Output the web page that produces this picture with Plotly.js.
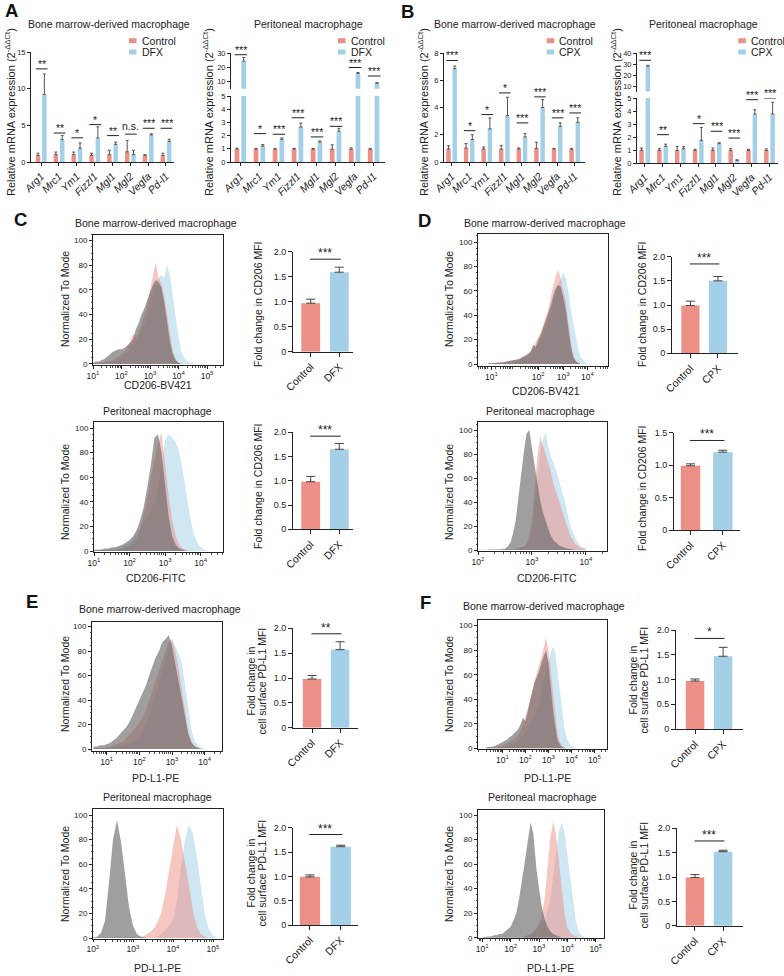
<!DOCTYPE html>
<html><head><meta charset="utf-8">
<script src="https://cdn.plot.ly/plotly-3.0.1.min.js"></script>
<style>html,body{margin:0;padding:0;background:#fff}#chart{width:784px;height:976px}</style>
</head><body><div id="chart"></div>
<script>
// ---------------- DATA ----------------
const genes = ['Arg1','Mrc1','Ym1','Fizzl1','Mgl1','Mgl2','Vegfa','Pd-l1'];
// Panel A, bone marrow-derived macrophage (Control vs DFX)
const aBmCtrl    = [0.9, 1.0, 1.0, 0.9, 1.0, 1.4, 0.9, 0.9];
const aBmCtrlErr = [0.3, 0.35, 0.35, 0.3, 0.6, 1.55, 0.1, 0.3];
const aBmTrt     = [9.2, 3.05, 1.9, 3.3, 2.4, 1.0, 3.7, 2.8];
const aBmTrtErr  = [2.8, 0.55, 0.7, 1.5, 0.3, 0.6, 0.15, 0.3];
const aBmSig     = ['**','**','*','*','**','n.s.','***','***'];
const aBmSigY    = [12.7, 3.95, 3.3, 5.1, 3.6, 3.8, 4.6, 4.6];
// Panel A, peritoneal macrophage (Control vs DFX)
const aPeCtrl    = [0.97,0.97,0.97,0.97,0.97,0.97,0.97,0.97];
const aPeCtrlErr = [0.08,0.06,0.06,0.06,0.05,0.33,0.1,0.06];
const aPeTrt     = [24.5, 1.2, 1.72, 2.65, 1.52, 2.35, 15.8, 9.0];
const aPeTrtErr  = [2.5, 0.12, 0.1, 0.3, 0.07, 0.2, 0.7, 0.3];
const aPeSig     = ['***','*','***','***','***','***','***','***'];
const aPeSigY    = [29, 2.15, 2.1, 3.35, 1.9, 2.7, 20, 14];
// Panel B, bone marrow-derived macrophage (Control vs CPX)
const bBmCtrl    = [0.95,1.03,0.95,0.95,0.95,1.0,0.95,0.95];
const bBmCtrlErr = [0.25,0.32,0.15,0.27,0.08,0.45,0.05,0.05];
const bBmTrt     = [6.85,1.65,2.43,3.4,1.84,4.0,2.62,2.92];
const bBmTrtErr  = [0.2,0.35,0.8,1.35,0.24,0.58,0.25,0.32];
const bBmSig     = ['***','*','*','*','***','***','***','***'];
const bBmSigY    = [7.45,2.3,3.48,5.07,2.87,4.78,3.24,3.6];
// Panel B, peritoneal macrophage (Control vs CPX)
const bPeCtrl    = [0.97,0.97,0.97,0.97,0.97,0.97,0.97,0.97];
const bPeCtrlErr = [0.18,0.13,0.3,0.08,0.18,0.13,0.08,0.11];
const bPeTrt     = [28.2,1.28,1.1,1.74,1.49,0.2,3.77,3.77];
const bPeTrtErr  = [0.8,0.17,0.15,1.0,0.07,0.05,0.33,0.9];
const bPeSig     = ['***','**','','*','***','***','***','***'];
const bPeSigY    = [33.6,2.18,null,3.03,2.44,1.92,4.87,5.0];

// Fold-change bar charts [Control, treatment]
const cBmFold = [0.97,1.59], cBmFoldErr = [0.08,0.1];
const cPeFold = [0.98,1.65], cPeFoldErr = [0.11,0.12];
const dBmFold = [0.99,1.5],  dBmFoldErr = [0.09,0.09];
const dPeFold = [0.99,1.2],  dPeFoldErr = [0.03,0.03];
const eBmFold = [0.98,1.57], eBmFoldErr = [0.07,0.16];
const ePeFold = [0.99,1.61], ePeFoldErr = [0.04,0.03];
const fBmFold = [0.97,1.47], fBmFoldErr = [0.04,0.18];
const fPeFold = [0.99,1.52], fPePFoldErr = [0.06,0.03];

// Flow histograms: log10 intensity grid and % of mode (isotype / control / treated)
const cBmLog  = [1.0,1.1,1.2,1.3,1.4,1.5,1.6,1.7,1.8,1.9,2.0,2.1,2.2,2.3,2.4,2.5,2.6,2.7,2.8,2.9,3.0,3.1,3.2,3.3,3.4,3.5,3.6,3.7,3.8,3.9,4.0,4.1,4.2,4.3,4.4,4.5];
const cBmIso  = [1,2,2,3,4,6,8,10,11,12, 12,13,15,17,20,28,33,40,45,52, 58,64,68,66,62,50,35,18,8,3, 1,0,0,0,0,0];
const cBmCtrl = [0.5,1,1,1,2,2,3,3,5,6, 8,10,13,18,24,22,25,32,40,48, 60,72,82,70,65,55,40,22,10,4, 1,0,0,0,0,0];
const cBmTrt  = [0.5,0.5,1,1,1,1,2,2,3,4, 5,7,9,12,15,18,22,28,32,38, 45,55,62,70,72,70,80,72,55,38, 22,10,5,2,1,0.5];

const cPeLog  = [1.0,1.1,1.2,1.3,1.4,1.5,1.6,1.7,1.8,1.9,2.0,2.1,2.2,2.3,2.4,2.5,2.6,2.7,2.8,2.9,3.0,3.1,3.2,3.3,3.4,3.5,3.6,3.7,3.8,3.9,4.0,4.1,4.2];
const cPeIso  = [1,1,1,2,2,3,3,4,5,7, 9,12,17,25,36,52,70,92,95,80, 55,28,12,5,2,1,0,0,0,0, 0,0,0];
const cPeCtrl = [0.5,0.5,0.5,0.5,1,1,1,1,2,3, 4,6,10,18,30,42,60,75,88,96, 70,45,25,12,5,2,1,0,0,0, 0,0,0];
const cPeTrt  = [1,1,1,1.5,1.5,2,2,3,4,5, 7,10,14,18,22,27,33,40,52,72, 90,95,92,88,80,65,45,28,15,7, 3,1,0];

const dBmLog  = [0,0.3,0.6,0.9,1.2,1.4,1.6,1.7,1.8,1.9,2.0,2.1,2.2,2.3,2.4,2.5,2.6,2.7,2.8,2.9,3.0,3.1,3.2,3.3,3.4,3.5,3.6,3.7,3.8,3.9,4.0];
const dBmIso  = [0.5,1,1.5,3,4,6, 8,10,16,14,20,24,30,36,42,48,56,62,65,63,55,45,30,15,6,2,1,0,0,0,0];
const dBmCtrl = [0.5,1,1,2,4,6, 9,11,13,18,22,26,32,38,45,55,65,72,77,70,60,52,35,18,7,3,1,0,0,0,0];
const dBmTrt  = [0.5,1,1,2,3,5, 7,9,11,14,17,20,25,30,35,42,50,58,65,70,75,70,60,45,35,22,12,6,3,1,0.5];

const dPeLog  = [2.0,2.2,2.4,2.5,2.55,2.6,2.65,2.7,2.75,2.8,2.85,2.9,2.95,3.0,3.05,3.1,3.15,3.2,3.25,3.3,3.35,3.4,3.45,3.5,3.6,3.7,3.8,3.9,4.0];
const dPeIso  = [0,0,0.5,1,3,6,14,25,45,65,82,97,100,85,70,55,42,32,24,18,12,8,6,4,2,1,0,0,0];
const dPeCtrl = [0,0,0,0,0,0.5,0.5,1,1.5,2,3,6,12,25,50,78,95,88,80,72,65,55,48,40,28,13,5,2,0.5];
const dPeTrt  = [0,0,0,0,0,0.5,0.5,1,1.5,2,3,4,8,15,35,60,82,92,98,86,78,72,66,58,42,22,10,3,1];

const eBmLog  = [0.6,0.7,0.8,0.9,1.0,1.1,1.2,1.3,1.4,1.5,1.6,1.7,1.8,1.9,2.0,2.1,2.2,2.3,2.4,2.5,2.6,2.7,2.8,2.9,3.0,3.1,3.2,3.3,3.4,3.5,3.6,3.7,3.8,3.9,4.0];
const eBmIso  = [2,2,3,3,4,5,7,9,12,15, 18,22,28,34,40,46,52,60,68,75, 80,87,90,93,84,70,55,40,25,12, 5,2,1,0,0];
const eBmCtrl = [1,1,1,1,2,2,3,4,5,6, 9,12,15,18,22,26,32,40,48,55, 64,72,80,88,90,80,66,48,30,14, 6,2,1,0,0];
const eBmTrt  = [0.5,0.5,0.5,1,1,1,2,2,3,3, 4,5,6,8,10,14,20,28,36,45, 54,64,74,82,90,84,78,70,52,32, 15,6,3,1,0.5];

const ePeLog  = [2.0,2.1,2.2,2.3,2.4,2.5,2.6,2.7,2.8,2.9,3.0,3.1,3.2,3.3,3.4,3.5,3.6,3.7,3.8,3.9,4.0,4.1,4.2,4.3,4.4,4.5,4.6,4.7,4.8,4.9,5.0,5.1];
const ePeIso  = [0.5,1,4,14,45,80,96,78,52,25, 10,3,1,0,0,0,0,0,0,0, 0,0,0,0,0,0,0,0,0,0, 0,0];
const ePeCtrl = [0,0,0,0,0,0,0,0,0,0, 0,0.5,1,2,4,7,12,20,35,55, 75,92,80,62,42,22,9,3,1,0, 0,0];
const ePeTrt  = [0,0,0,0,0,0,0,0,0,0, 0,0,0,0,0,0.5,1,3,6,10, 15,30,58,80,92,85,65,40,18,7, 2,0.5];

const fBmLog  = [0.3,0.5,0.7,0.9,1.0,1.1,1.2,1.3,1.4,1.5,1.6,1.7,1.8,1.9,2.0,2.1,2.2,2.3,2.4,2.5,2.6,2.7,2.8,2.9,3.0,3.1,3.2,3.3,3.4,3.5,3.6,3.7,3.8,3.9,4.0,4.1,4.2];
const fBmIso  = [1,1,2,4, 5,6,7,9,10,12,14,16,20,25, 22,30,38,46,54,58,63,70,76,80, 70,50,32,18,7,3,1,0,0,0, 0,0,0];
const fBmCtrl = [0.5,0.5,1,2, 2,3,4,5,6,7,9,11,15,20, 25,32,40,47,55,62,68,74,82,90, 80,64,45,28,12,5,2,1,0,0, 0,0,0];
const fBmTrt  = [0.5,0.5,0.5,1, 1,1.5,2,2.5,3,4,5,7,9,11, 13,15,19,23,28,33,38,48,56,64, 72,78,83,78,62,46,30,16,8,4, 2,1,0];

const fPeLog  = [1.0,1.1,1.2,1.3,1.4,1.5,1.6,1.7,1.8,1.9,2.0,2.1,2.2,2.3,2.4,2.5,2.6,2.7,2.8,2.9,3.0,3.1,3.2,3.3,3.4,3.5,3.6,3.7,3.8,3.9,4.0,4.1,4.2,4.3,4.4,4.5,4.6];
const fPeIso  = [0.5,1,1,1,2,2,3,3,5,7, 9,14,20,32,46,62,78,94,85,58, 40,25,15,9,5,3,2,1,0,0, 0,0,0,0,0,0,0];
const fPeCtrl = [0,0,0,0,0,0,0,0,0,0, 0,0,0,0,0,1,2,3,5,7, 11,18,32,55,82,95,84,62,40,20, 8,4,2,1,0,0,0];
const fPeTrt  = [0,0,0,0,0,0,0,0,0,0, 0,0,0,0,0,1,2,3,5,7, 10,12,15,22,32,48,68,86,94,86, 68,48,28,13,5,2,1];

// ---------------- STYLE / HELPERS ----------------
const FONT = '"Liberation Sans", Arial, sans-serif';
const INK = '#222';
const RED = '#EC8F86', BLUE = '#A3CFE7';
const ISO_FILL = 'rgba(100,100,100,0.62)', CTRL_FILL = 'rgba(236,135,126,0.48)', TRT_FILL = 'rgba(160,205,232,0.5)';
const W = 784, H = 976;

const layout = {width:W, height:H, margin:{l:0,r:0,t:0,b:0}, paper_bgcolor:'#fff', plot_bgcolor:'rgba(0,0,0,0)',
  showlegend:false, barmode:'overlay', font:{family:FONT, size:10, color:INK}, annotations:[], shapes:[]};
const data = [];
let axN = 0;
function newAxes(x0, x1, yt, yb, xo, yo) {
  axN++; const s = axN === 1 ? '' : String(axN);
  layout['xaxis'+s] = Object.assign({domain:[x0/W, x1/W], anchor:'y'+s}, xo);
  layout['yaxis'+s] = Object.assign({domain:[1-yb/H, 1-yt/H], anchor:'x'+s}, yo);
  return {xa:'x'+s, ya:'y'+s};
}
const base = {showline:true, linecolor:INK, linewidth:1, showgrid:false, zeroline:false, ticks:'outside',
  tickcolor:INK, tickwidth:1, fixedrange:true};
function ann(text, x, y, o) {
  layout.annotations.push(Object.assign({text, x:x/W, y:1-y/H, xref:'paper', yref:'paper', showarrow:false,
    xanchor:'center', yanchor:'middle', font:{size:10.5, color:INK}}, o || {}));
}
function rect(x, y, w, h, color) {
  layout.shapes.push({type:'rect', xref:'paper', yref:'paper', x0:x/W, x1:(x+w)/W, y0:1-(y+h/2)/H, y1:1-(y-h/2)/H,
    fillcolor:color, line:{width:0}});
}
const catIdx = genes.map((g,i) => i);

function geneBars(ax, ctrl, ctrlErr, trt, trtErr) {
  const zeros = ctrl.map(() => 0);
  data.push({type:'bar', x:catIdx, y:ctrl, xaxis:ax.xa, yaxis:ax.ya, offset:-0.30, width:0.25,
    marker:{color:RED, line:{width:0}}, hoverinfo:'skip',
    error_y:{type:'data', symmetric:false, array:ctrlErr, arrayminus:zeros, color:'#555', thickness:1, width:1.5}});
  data.push({type:'bar', x:catIdx, y:trt, xaxis:ax.xa, yaxis:ax.ya, offset:0.055, width:0.25,
    marker:{color:BLUE, line:{width:0}}, hoverinfo:'skip',
    error_y:{type:'data', symmetric:false, array:trtErr, arrayminus:zeros, color:'#555', thickness:1, width:1.5}});
}

function genePanel(o) {
  const xo = Object.assign({}, base, {range:o.xr, tickvals:catIdx, ticktext:genes.map(g => '<i>'+g+'</i>'),
    tickangle:-45, ticklen:3, tickfont:{size:10.5, color:INK}});
  const yo = Object.assign({}, base, {range:o.range, tickvals:o.ticks, ticklen:3, tickfont:{size:7.5, color:INK}});
  const low = newAxes(o.x0, o.x1, o.yt, o.yb, xo, yo);
  geneBars(low, o.ctrl, o.ctrlErr, o.trt, o.trtErr);
  let up = null;
  if (o.up) {
    up = newAxes(o.x0, o.x1, o.up.yt, o.up.yb, {range:o.xr, visible:false, fixedrange:true},
      Object.assign({}, base, {range:o.up.range, tickvals:o.up.ticks, ticklen:3, tickfont:{size:7.5, color:INK}}));
    geneBars(up, o.ctrl, o.ctrlErr, o.trt, o.trtErr);
  }
  o.sig.forEach((s, i) => {
    if (!s) return;
    const y = o.sigY[i];
    const ax = (up && y > o.range[1]) ? up : low;
    layout.shapes.push({type:'line', xref:ax.xa, yref:ax.ya, x0:i-0.3, x1:i+0.36, y0:y, y1:y, line:{color:INK, width:1}});
    layout.annotations.push({text:s, x:i+0.03, y:y, xref:ax.xa, yref:ax.ya, showarrow:false, xanchor:'center',
      yanchor:'bottom', yshift:(s === 'n.s.' ? 0 : -3), font:{size:10.5, color:INK}});
  });
  ann(o.title, o.tx, 24, {font:{size:10.5, color:INK}});
  ann('Relative mRNA expression (2<sup>-ΔΔCt</sup>)', o.ytx, 112, {textangle:-90, font:{size:11, color:INK}});
  rect(o.lx, 40.7, 7.5, 5, RED); rect(o.lx, 52, 7.5, 5, BLUE);
  ann('Control', o.lx+10.5, 40.7, {xanchor:'left', font:{size:10.5, color:INK}});
  ann(o.trtName, o.lx+10.5, 52, {xanchor:'left', font:{size:10.5, color:INK}});
}

function flowBar(o) {
  const xo = Object.assign({}, base, {range:o.xr, tickvals:[0,1], ticktext:['Control', o.trtName], tickangle:-45,
    ticklen:4, tickfont:{size:10.5, color:INK}});
  const yo = Object.assign({}, base, {range:o.range, tickvals:o.ticks, ticktext:o.tickt, ticklen:4,
    tickfont:{size:9, color:INK}});
  const ax = newAxes(o.x0, o.x1, o.yt, o.yb, xo, yo);
  data.push({type:'bar', x:[0,1], y:o.vals, width:o.bw || 0.66, xaxis:ax.xa, yaxis:ax.ya, hoverinfo:'skip',
    marker:{color:[RED, BLUE], line:{width:0}},
    error_y:{type:'data', symmetric:false, array:o.errs, arrayminus:[0,0], color:'#444', thickness:1, width:4.5}});
  layout.shapes.push({type:'line', xref:ax.xa, yref:ax.ya, x0:-0.02, x1:1.05, y0:o.sigY, y1:o.sigY, line:{color:INK, width:1}});
  layout.annotations.push({text:o.sig, x:0.5, y:o.sigY, xref:ax.xa, yref:ax.ya, showarrow:false, xanchor:'center',
    yanchor:'bottom', yshift:-3, font:{size:12, color:INK}});
  if (o.ytitle.length === 1) {
    ann(o.ytitle[0], o.ytx, o.yty, {textangle:-90, font:{size:10.5, color:INK}});
  } else {
    ann(o.ytitle[0], o.ytx-5.5, o.yty, {textangle:-90, font:{size:10.5, color:INK}});
    ann(o.ytitle[1], o.ytx+5.5, o.yty, {textangle:-90, font:{size:10.5, color:INK}});
  }
}

const minorVals = [];
for (let e = -1; e < 6; e++) for (let m = 2; m < 10; m++) minorVals.push(m * Math.pow(10, e));

function histo(o) {
  const xo = Object.assign({}, base, {type:'log', range:o.lr, tickvals:o.tickL.map(l => Math.pow(10, l)),
    ticktext:o.tickE.map(e => '10<sup>'+e+'</sup>'), ticklen:2.5, mirror:true, tickfont:{size:8.5, color:INK},
    minor:{tickvals:minorVals, ticks:'outside', ticklen:2, tickcolor:INK, tickwidth:0.8}});
  const yo = Object.assign({}, base, {range:o.yr, tickvals:[0,20,40,60,80,100], ticklen:3, mirror:true,
    tickfont:{size:8, color:INK}, minor:{dtick:5, ticks:'outside', ticklen:1.5, tickcolor:INK, tickwidth:0.8}});
  const ax = newAxes(o.x0, o.x1, o.yt, o.yb, xo, yo);
  const xs = o.grid.map(l => Math.pow(10, l));
  [[o.trt, TRT_FILL], [o.ctrl, CTRL_FILL], [o.iso, ISO_FILL]].forEach(([ys, fc]) => {
    data.push({type:'scatter', mode:'lines', x:xs, y:ys, xaxis:ax.xa, yaxis:ax.ya, fill:'tozeroy', fillcolor:fc,
      line:{width:0, color:fc}, hoverinfo:'skip'});
  });
  ann(o.title, o.tx, o.ty, {font:{size:10.5, color:INK}});
  ann(o.xtitle, o.xtx, o.xty, {font:{size:10.5, color:INK}});
  ann('Normalized To Mode', o.ytx, o.yty, {textangle:-90, font:{size:10.5, color:INK}});
}

// ---------------- PANELS A/B ----------------
genePanel({x0:31, x1:174, yt:52, yb:162, xr:[-0.57,7.45], range:[0,15], ticks:[0,5,10,15],
  ctrl:aBmCtrl, ctrlErr:aBmCtrlErr, trt:aBmTrt, trtErr:aBmTrtErr, sig:aBmSig, sigY:aBmSigY,
  title:'Bone marrow-derived macrophage', tx:109, ytx:10, lx:129, trtName:'DFX'});
genePanel({x0:231, x1:385, yt:96, yb:162, xr:[-0.49,7.6], range:[0,5], ticks:[0,1,2,3,4,5],
  up:{yt:53.3, yb:88.8, range:[5,30], ticks:[10,20,30]},
  ctrl:aPeCtrl, ctrlErr:aPeCtrlErr, trt:aPeTrt, trtErr:aPeTrtErr, sig:aPeSig, sigY:aPeSigY,
  title:'Peritoneal macrophage', tx:308, ytx:208, lx:338, trtName:'DFX'});
genePanel({x0:444, x1:585, yt:53, yb:162, xr:[-0.43,7.59], range:[0,8], ticks:[0,2,4,6,8],
  ctrl:bBmCtrl, ctrlErr:bBmCtrlErr, trt:bBmTrt, trtErr:bBmTrtErr, sig:bBmSig, sigY:bBmSigY,
  title:'Bone marrow-derived macrophage', tx:515, ytx:423, lx:546.7, trtName:'CPX'});
genePanel({x0:637, x1:778, yt:98, yb:163, xr:[-0.43,7.48], range:[0,5], ticks:[0,1,2,3,4,5],
  up:{yt:53.3, yb:91.5, range:[5,40], ticks:[10,20,30,40]},
  ctrl:bPeCtrl, ctrlErr:bPeCtrlErr, trt:bPeTrt, trtErr:bPeTrtErr, sig:bPeSig, sigY:bPeSigY,
  title:'Peritoneal macrophage', tx:703, ytx:616, lx:738.3, trtName:'CPX'});

// ---------------- HISTOGRAMS ----------------
histo({x0:93, x1:223, yt:234.5, yb:365.2, lr:[1,5.56], yr:[-1,105], grid:cBmLog, iso:cBmIso, ctrl:cBmCtrl, trt:cBmTrt,
  tickL:[1,2,3,4,5], tickE:[1,2,3,4,5], title:'Bone marrow-derived macrophage', tx:156, ty:223,
  xtitle:'CD206-BV421', xtx:158, xty:385, ytx:65, yty:299});
histo({x0:94, x1:223, yt:422, yb:552, lr:[1,4.63], yr:[-0.8,104.9], grid:cPeLog, iso:cPeIso, ctrl:cPeCtrl, trt:cPeTrt,
  tickL:[1,2,3,4], tickE:[1,2,3,4], title:'Peritoneal macrophage', tx:157, ty:411,
  xtitle:'CD206-FITC', xtx:156, xty:578, ytx:65, yty:492});
histo({x0:478, x1:608, yt:234, yb:366, lr:[-0.41,4.79], yr:[-1.6,106.6], grid:dBmLog, iso:dBmIso, ctrl:dBmCtrl, trt:dBmTrt,
  tickL:[0.13,2,3,3.97], tickE:[1,2,3,4], title:'Bone marrow-derived macrophage', tx:545, ty:223,
  xtitle:'CD206-BV421', xtx:546, xty:391, ytx:449, yty:299});
histo({x0:478, x1:607, yt:422, yb:551, lr:[2,4.39], yr:[-0.8,106.7], grid:dPeLog, iso:dPeIso, ctrl:dPeCtrl, trt:dPeTrt,
  tickL:[2,3,4], tickE:[2,3,4], title:'Peritoneal macrophage', tx:540, ty:411,
  xtitle:'CD206-FITC', xtx:547, xty:578, ytx:449, yty:492});
histo({x0:92, x1:222, yt:622, yb:751, lr:[0.55,4.53], yr:[-1.6,103.8], grid:eBmLog, iso:eBmIso, ctrl:eBmCtrl, trt:eBmTrt,
  tickL:[1,2,3,4], tickE:[1,2,3,4], title:'Bone marrow-derived macrophage', tx:160, ty:609,
  xtitle:'PD-L1-PE', xtx:155, xty:778, ytx:65, yty:684});
histo({x0:93, x1:223, yt:809, yb:938.5, lr:[2,5.25], yr:[-0.4,104.9], grid:ePeLog, iso:ePeIso, ctrl:ePeCtrl, trt:ePeTrt,
  tickL:[2,3,4,5], tickE:[2,3,4,5], title:'Peritoneal macrophage', tx:157, ty:797,
  xtitle:'PD-L1-PE', xtx:157, xty:968, ytx:65, yty:874});
histo({x0:478, x1:607, yt:620, yb:749, lr:[-0.06,5.55], yr:[-0.6,104.6], grid:fBmLog, iso:fBmIso, ctrl:fBmCtrl, trt:fBmTrt,
  tickL:[1,2,3,4,5], tickE:[1,2,3,4,5], title:'Bone marrow-derived macrophage', tx:544, ty:606,
  xtitle:'PD-L1-PE', xtx:547, xty:778, ytx:449, yty:684});
histo({x0:478, x1:604, yt:810, yb:938, lr:[0.85,5.29], yr:[-0.2,104.1], grid:fPeLog, iso:fPeIso, ctrl:fPeCtrl, trt:fPeTrt,
  tickL:[1,2,3,4,5], tickE:[1,2,3,4,5], title:'Peritoneal macrophage', tx:542, ty:797,
  xtitle:'PD-L1-PE', xtx:550, xty:968, ytx:449, yty:874});

// ---------------- FOLD-CHANGE BARS ----------------
const t2 = {range:[0,2], ticks:[0,0.5,1,1.5,2], tickt:['0','0.5','1.0','1.5','2.0']};
const cd206T = ['Fold change in CD206 MFI'];
const pdl1T = ['Fold change in', 'cell surface PD-L1 MFI'];
flowBar(Object.assign({x0:293, x1:353, yt:251.7, yb:351.7, xr:[-0.62,1.48], vals:cBmFold, errs:cBmFoldErr, trtName:'DFX',
  sig:'***', sigY:1.85, ytitle:cd206T, ytx:258, yty:305}, t2));
flowBar(Object.assign({x0:293, x1:353, yt:432.3, yb:529.3, xr:[-0.62,1.48], vals:cPeFold, errs:cPeFoldErr, trtName:'DFX',
  sig:'***', sigY:1.92, ytitle:cd206T, ytx:258, yty:487}, t2));
flowBar(Object.assign({x0:672, x1:738, yt:256.7, yb:353.3, xr:[-0.67,1.73], vals:dBmFold, errs:dBmFoldErr, trtName:'CPX',
  sig:'***', sigY:1.85, ytitle:cd206T, ytx:642, yty:305}, t2));
flowBar({x0:674, x1:740, yt:432.7, yb:530, xr:[-0.51,1.53], range:[0,1.5], ticks:[0,0.5,1,1.5], tickt:['0','0.5','1.0','1.5'],
  vals:dPeFold, errs:dPeFoldErr, trtName:'CPX', bw:0.6, sig:'***', sigY:1.38, ytitle:cd206T, ytx:642, yty:489});
flowBar(Object.assign({x0:293, x1:358, yt:628.3, yb:727.7, xr:[-0.68,1.64], vals:eBmFold, errs:eBmFoldErr, trtName:'DFX',
  sig:'**', sigY:1.89, ytitle:pdl1T, ytx:256, yty:681}, t2));
flowBar(Object.assign({x0:293, x1:358, yt:827.7, yb:925, xr:[-0.55,1.56], vals:ePeFold, errs:ePeFoldErr, trtName:'DFX',
  sig:'***', sigY:1.86, ytitle:pdl1T, ytx:256, yty:873}, t2));
flowBar(Object.assign({x0:676, x1:743, yt:630, yb:729, xr:[-0.68,1.71], vals:fBmFold, errs:fBmFoldErr, trtName:'CPX',
  sig:'*', sigY:1.83, ytitle:pdl1T, ytx:638, yty:680}, t2));
flowBar(Object.assign({x0:677, x1:743, yt:828.3, yb:925.7, xr:[-0.64,1.71], vals:fPeFold, errs:fPePFoldErr, trtName:'CPX',
  sig:'***', sigY:1.74, ytitle:pdl1T, ytx:638, yty:875}, t2));

// ---------------- PANEL LETTERS ----------------
[['A',11,11],['B',407,12],['C',20,220],['D',424,221],['E',32,601],['F',425,602]].forEach(([t,x,y]) =>
  ann('<b>'+t+'</b>', x, y, {font:{size:18.5, color:'#111', family:FONT}}));

Plotly.newPlot('chart', data, layout, {staticPlot:true, displayModeBar:false});
</script>
</body></html>
